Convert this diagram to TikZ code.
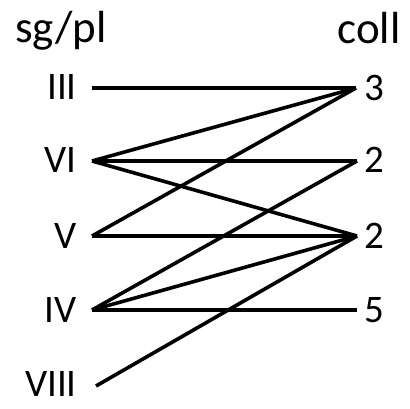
\documentclass[tikz,border=0pt]{standalone}
\usepackage{fontspec}
\setmainfont{Carlito}
\begin{document}
\begin{tikzpicture}[x=1pt,y=-1pt,
  lab/.style={font=\fontsize{39}{44}\selectfont, inner sep=0pt},
  head/.style={font=\fontsize{45}{50}\selectfont, inner sep=0pt, anchor=base},
  link/.style={line width=3.6pt, line cap=butt, line join=miter}]
\useasboundingbox (0,0) rectangle (410,409);
\node[head] (sg) at (61,43) {sg/pl};
\node[head] (coll) at (369,44) {coll};
% left labels
\node[lab, anchor=east] (III) at (77,87) {III};
\node[lab, anchor=east] (VI) at (77,160) {VI};
\node[lab, anchor=east] (V) at (77,236) {V};
\node[lab, anchor=east] (IV) at (77,310) {IV};
\node[lab, anchor=east] (VIII) at (77,384) {VIII};
% right labels
\node[lab, anchor=west] (r3) at (364,88) {3};
\node[lab, anchor=west] (r2a) at (364,160) {2};
\node[lab, anchor=west] (r2b) at (364,236) {2};
\node[lab, anchor=west] (r5) at (364,310) {5};
% endpoints
\coordinate (a1) at (92,88);
\coordinate (a2) at (92,161);
\coordinate (a3) at (92,236);
\coordinate (a4) at (92,310);
\coordinate (a5) at (96,386);
\coordinate (b1) at (356,88);
\coordinate (b2) at (357,161);
\coordinate (b3) at (357,236);
\coordinate (b4) at (357,310);
% connectors
\draw[link] (a1) -- (b1);
\draw[link] (a2) -- (b1);
\draw[link] (a2) -- (b2);
\draw[link] (a2) -- (b3);
\draw[link] (a3) -- (b1);
\draw[link] (a3) -- (b3);
\draw[link] (a4) -- (b2);
\draw[link] (a4) -- (b3);
\draw[link] (a4) -- (b4);
\draw[link] (a5) -- (b3);
\end{tikzpicture}
\end{document}
